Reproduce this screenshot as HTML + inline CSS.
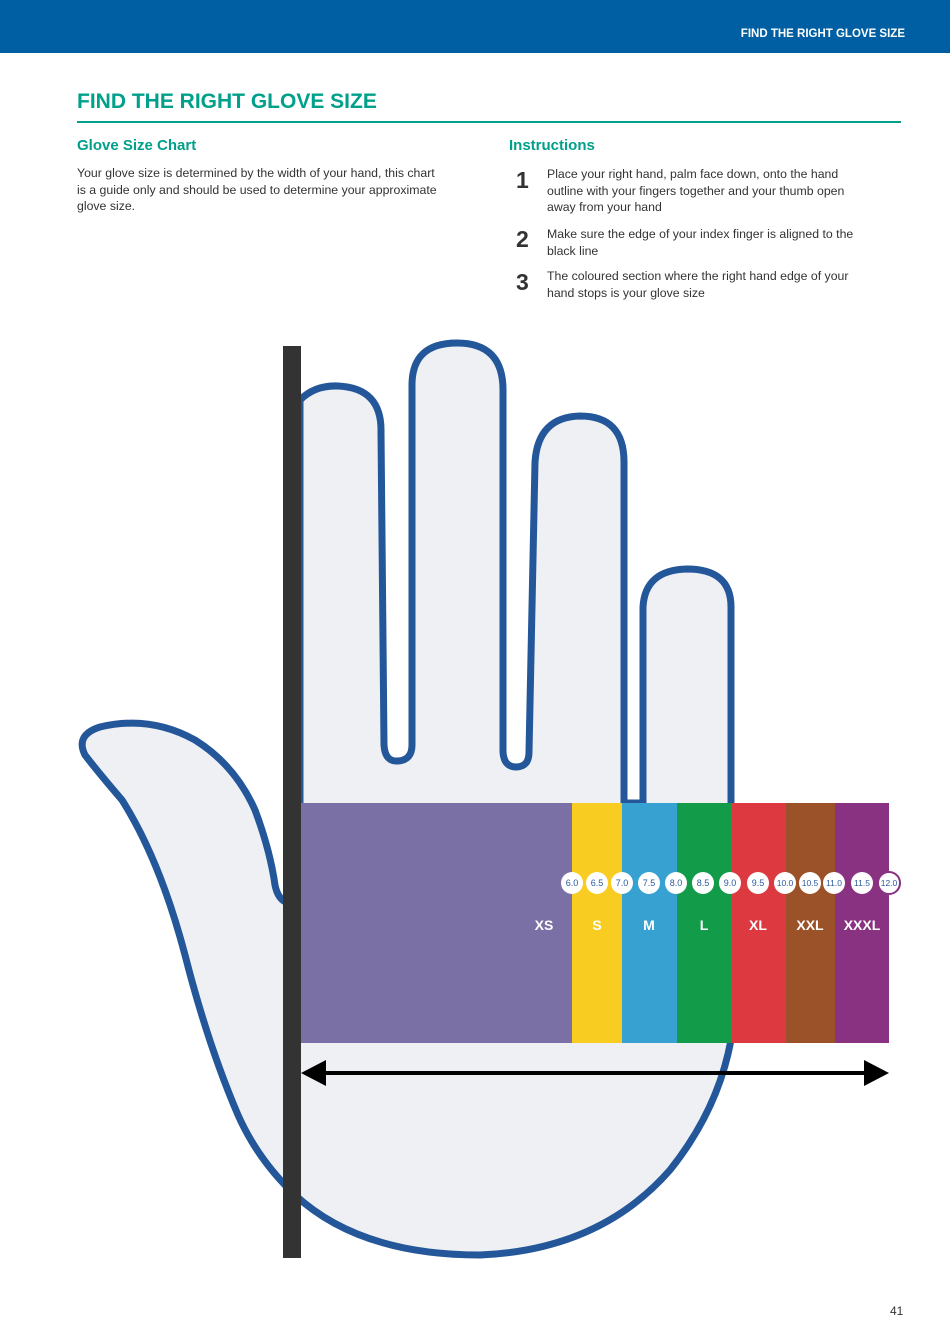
<!DOCTYPE html>
<html><head><meta charset="utf-8"><style>
body{margin:0;width:950px;height:1344px;position:relative;background:#fff;font-family:"Liberation Sans",sans-serif;color:#333;overflow:hidden}
.a{position:absolute}
.t{color:#00a08a;font-weight:bold}
.p{font-size:12.3px;line-height:16.5px}
.n{font-size:23px;color:#333;font-weight:bold}
</style></head><body>
<div class="a" style="left:0;top:0;width:950px;height:53px;background:#005fa3"></div>
<div class="a" style="right:45px;top:28px;color:#fff;font-weight:bold;font-size:11.5px">FIND THE RIGHT GLOVE SIZE</div>
<div class="a t" style="left:77px;top:90px;font-size:21px">FIND THE RIGHT GLOVE SIZE</div>
<div class="a" style="left:77px;top:121px;width:824px;height:2px;background:#00a08a"></div>
<div class="a t" style="left:77px;top:137px;font-size:15px">Glove Size Chart</div>
<div class="a p" style="left:77px;top:165px;width:370px">Your glove size is determined by the width of your hand, this chart is a guide only and should be used to determine your approximate glove size.</div>
<div class="a t" style="left:509px;top:137px;font-size:15px">Instructions</div>
<div class="a n" style="left:516px;top:167px">1</div>
<div class="a p" style="left:547px;top:166px;width:318px">Place your right hand, palm face down, onto the hand outline with your fingers together and your thumb open away from your hand</div>
<div class="a n" style="left:516px;top:226px">2</div>
<div class="a p" style="left:547px;top:226px;width:330px">Make sure the edge of your index finger is aligned to the black line</div>
<div class="a n" style="left:516px;top:269px">3</div>
<div class="a p" style="left:547px;top:268px;width:330px">The coloured section where the right hand edge of your hand stops is your glove size</div>
<svg class="a" style="left:0;top:0" width="950" height="1344">
<path d="M300 400 Q315 385 338 386 Q382 388 381 432 L384 745 Q385 762 398 761 Q412 760 412 745 L412 385 Q412 343 457 343 Q503 343 503 390 L503 752 Q504 767 516 767 Q529 767 529 752 L535 462 Q538 417 580 416 Q624 416 624 462 L624 803 L643 803 L643 607 Q645 570 687 569 Q731 569 731 607 L731 1040 Q718 1110 670 1170 Q600 1250 480 1255 Q360 1255 295 1195 Q258 1160 238 1115 Q208 1045 185 955 Q160 860 122 800 Q98 772 85 755 Q75 735 100 727 Q150 715 195 740 Q235 765 255 810 Q270 850 275 885 Q278 900 288 903 L300 903 Z" fill="#eff0f4" stroke="#23579a" stroke-width="7" stroke-linejoin="round"/>
<rect x="301" y="803" width="271" height="240" fill="#7a70a6"/>
<rect x="572" y="803" width="50" height="240" fill="#f8cc20"/>
<rect x="622" y="803" width="55" height="240" fill="#37a2d2"/>
<rect x="677" y="803" width="54" height="240" fill="#129c4a"/>
<rect x="731" y="803" width="55" height="240" fill="#dc3a40"/>
<rect x="786" y="803" width="49" height="240" fill="#9c5228"/>
<rect x="835" y="803" width="54" height="240" fill="#8a3282"/>
<rect x="283" y="346" width="18" height="912" fill="#333"/>
<line x1="320" y1="1073" x2="870" y2="1073" stroke="#000" stroke-width="4"/>
<polygon points="301,1073 326,1060 326,1086" fill="#000"/>
<polygon points="889,1073 864,1060 864,1086" fill="#000"/>
<g font-family="Liberation Sans,sans-serif" font-size="9" fill="#2a5aa0" text-anchor="middle">
<g fill="#fff"><circle cx="572" cy="883" r="11"/><circle cx="597" cy="883" r="11"/><circle cx="622" cy="883" r="11"/><circle cx="649" cy="883" r="11"/><circle cx="676" cy="883" r="11"/><circle cx="703" cy="883" r="11"/><circle cx="730" cy="883" r="11"/><circle cx="758" cy="883" r="11"/><circle cx="785" cy="883" r="11"/><circle cx="810" cy="883" r="11"/><circle cx="834" cy="883" r="11"/><circle cx="862" cy="883" r="11"/><circle cx="889" cy="883" r="11" stroke="#8a3282" stroke-width="2"/></g>
<text x="572" y="886">6.0</text><text x="597" y="886">6.5</text><text x="622" y="886">7.0</text><text x="649" y="886">7.5</text><text x="676" y="886">8.0</text><text x="703" y="886">8.5</text><text x="730" y="886">9.0</text><text x="758" y="886">9.5</text><text x="785" y="886" font-size="8.5">10.0</text><text x="810" y="886" font-size="8.5">10.5</text><text x="834" y="886" font-size="8.5">11.0</text><text x="862" y="886" font-size="8.5">11.5</text><text x="889" y="886" font-size="8.5">12.0</text>
</g>
<g font-family="Liberation Sans,sans-serif" font-size="14" font-weight="bold" fill="#fff" text-anchor="middle">
<text x="544" y="930">XS</text><text x="597" y="930">S</text><text x="649" y="930">M</text><text x="704" y="930">L</text><text x="758" y="930">XL</text><text x="810" y="930">XXL</text><text x="862" y="930">XXXL</text>
</g>
</svg>
<div class="a" style="left:890px;top:1304px;font-size:12px;color:#333">41</div>
</body></html>
